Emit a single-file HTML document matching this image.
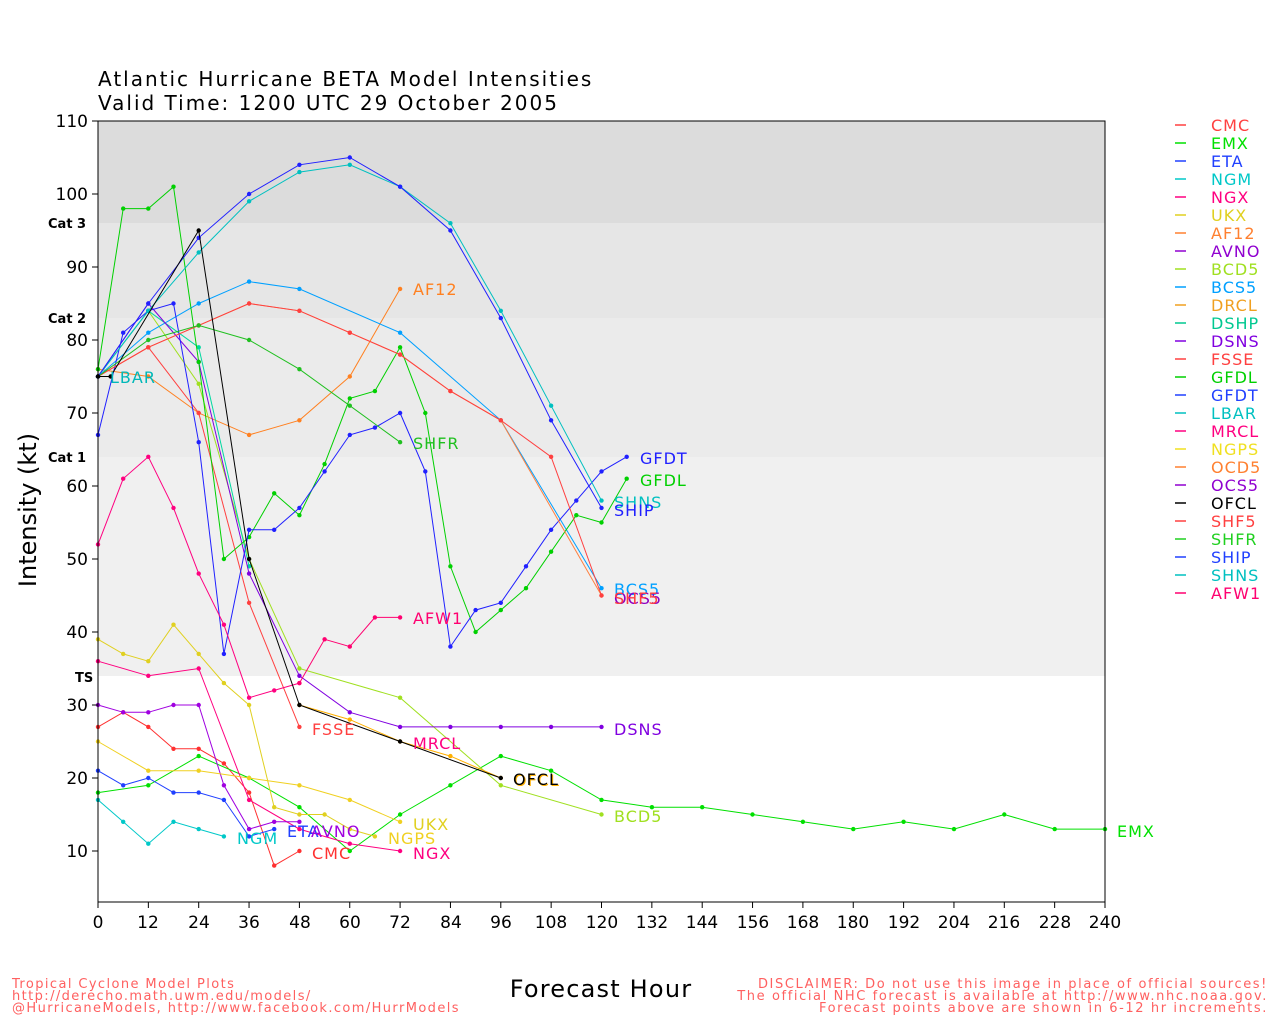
<!DOCTYPE html>
<html><head><meta charset="utf-8"><style>
body{margin:0;background:#fff}
svg{display:block;font-family:"DejaVu Sans","Liberation Sans",sans-serif}
</style></head><body>
<svg id="s" width="1280" height="1024" xmlns="http://www.w3.org/2000/svg">
<rect x="98" y="121" width="1007" height="102" fill="#dcdcdc"/>
<rect x="98" y="223" width="1007" height="95" fill="#e6e6e6"/>
<rect x="98" y="318" width="1007" height="139" fill="#ebebeb"/>
<rect x="98" y="457" width="1007" height="219" fill="#f0f0f0"/>
<g id="series"></g>
<rect x="98" y="121" width="1007" height="781" fill="none" stroke="#000" stroke-width="1"/>
<g font-size="20" fill="#000" letter-spacing="2">
<text x="98" y="86">Atlantic Hurricane BETA Model Intensities</text>
<text x="98" y="110">Valid Time: 1200 UTC 29 October 2005</text>
</g>
<g font-size="13" font-weight="bold" fill="#000">
<text x="48" y="228">Cat 3</text><text x="48" y="323">Cat 2</text><text x="48" y="462">Cat 1</text><text x="75" y="682">TS</text>
</g>
<g font-size="17" fill="#000" text-anchor="end" id="yt">
<text x="88" y="127">110</text><text x="88" y="200">100</text><text x="88" y="273">90</text><text x="88" y="346">80</text><text x="88" y="419">70</text><text x="88" y="492">60</text><text x="88" y="565">50</text><text x="88" y="638">40</text><text x="88" y="711">30</text><text x="88" y="784">20</text><text x="88" y="857">10</text>
</g>
<g font-size="17" fill="#000" text-anchor="middle">
<text x="98" y="928">0</text><text x="148" y="928">12</text><text x="199" y="928">24</text><text x="249" y="928">36</text><text x="300" y="928">48</text><text x="350" y="928">60</text><text x="400" y="928">72</text><text x="451" y="928">84</text><text x="501" y="928">96</text><text x="551" y="928">108</text><text x="602" y="928">120</text><text x="652" y="928">132</text><text x="702" y="928">144</text><text x="753" y="928">156</text><text x="803" y="928">168</text><text x="853" y="928">180</text><text x="904" y="928">192</text><text x="954" y="928">204</text><text x="1004" y="928">216</text><text x="1055" y="928">228</text><text x="1105" y="928">240</text>
</g>
<g id="ticks" stroke="#000"></g>
<text x="601" y="997" font-size="24" text-anchor="middle" letter-spacing="1.2">Forecast Hour</text>
<text transform="translate(36,510) rotate(-90)" font-size="24" text-anchor="middle">Intensity (kt)</text>
<g font-size="13" fill="#ff6060" letter-spacing="1.4">
<text x="12" y="988">Tropical Cyclone Model Plots</text>
<text x="12" y="1000">http://derecho.math.uwm.edu/models/</text>
<text x="12" y="1012">@HurricaneModels, http://www.facebook.com/HurrModels</text>
</g>
<g font-size="13" fill="#ff6060" text-anchor="end" letter-spacing="1.6">
<text x="1268" y="988">DISCLAIMER: Do not use this image in place of official sources!</text>
<text x="1268" y="1000">The official NHC forecast is available at http://www.nhc.noaa.gov.</text>
<text x="1268" y="1012">Forecast points above are shown in 6-12 hr increments.</text>
</g>
<g font-size="16" letter-spacing="1">
<text x="110" y="383" fill="#00b8b8">LBAR</text>
<text x="413" y="295" fill="#ff8020">AF12</text>
<text x="413" y="449" fill="#20c020">SHFR</text>
<text x="640" y="464" fill="#2020ff">GFDT</text>
<text x="640" y="486" fill="#00d000">GFDL</text>
<text x="614" y="508" fill="#00c0c0">SHNS</text>
<text x="614" y="516" fill="#2020ff">SHIP</text>
<text x="614" y="595" fill="#00a0ff">BCS5</text>
<text x="614" y="604" fill="#9000c0">OCS5</text>
<text x="614" y="604" fill="#ff4040">SHF5</text>
<text x="413" y="624" fill="#ff0070">AFW1</text>
<text x="312" y="735" fill="#ff4040">FSSE</text>
<text x="614" y="735" fill="#8000e0">DSNS</text>
<text x="413" y="749" fill="#ff0080">MRCL</text>
<text x="514" y="786" fill="#ffb000">OFCL</text>
<text x="513" y="785" fill="#000">OFCL</text>
<text x="614" y="822" fill="#a0e020">BCD5</text>
<text x="413" y="830" fill="#e0d020">UKX</text>
<text x="287" y="837" fill="#2040ff">ETA</text>
<text x="311" y="837" fill="#a000e0">AVNO</text>
<text x="1117" y="837" fill="#00e000">EMX</text>
<text x="237" y="844" fill="#00c8c8">NGM</text>
<text x="388" y="844" fill="#f0d020">NGPS</text>
<text x="312" y="859" fill="#ff3030">CMC</text>
<text x="413" y="859" fill="#ff0080">NGX</text>
</g>
<g id="leg" font-size="16" letter-spacing="1"></g>
</svg>
<script>
var X=function(h){return 98+h*1007/240},Y=function(k){return 851-(k-10)*7.3};
var S=[
["CMC","#ff3030",[[0,27],[6,29],[12,27],[18,24],[24,24],[30,22],[36,18],[42,8],[48,10]]],
["EMX","#00e000",[[0,18],[12,19],[24,23],[36,20],[48,16],[60,10],[72,15],[84,19],[96,23],[108,21],[120,17],[132,16],[144,16],[156,15],[168,14],[180,13],[192,14],[204,13],[216,15],[228,13],[240,13]]],
["ETA","#2040ff",[[0,21],[6,19],[12,20],[18,18],[24,18],[30,17],[36,12],[42,13]]],
["NGM","#00c8c8",[[0,17],[6,14],[12,11],[18,14],[24,13],[30,12]]],
["NGX","#ff0080",[[0,36],[12,34],[24,35],[36,17],[48,13],[60,11],[72,10]]],
["UKX","#e0d020",[[0,39],[6,37],[12,36],[18,41],[24,37],[30,33],[36,30],[42,16],[48,15],[54,15],[60,13],[66,12]]],
["AF12","#ff8020",[[0,76],[12,75],[24,70],[36,67],[48,69],[60,75],[72,87]]],
["AVNO","#a000e0",[[0,30],[6,29],[12,29],[18,30],[24,30],[30,19],[36,13],[42,14],[48,14]]],
["BCD5","#a0e020",[[0,75],[12,84],[24,74],[36,50],[48,35],[72,31],[96,19],[120,15]]],
["BCS5","#00a0ff",[[0,75],[12,81],[24,85],[36,88],[48,87],[72,81],[96,69],[120,46]]],
["DRCL","#ffb000",[[48,30],[60,28],[72,25],[84,23],[96,20]]],
["DSHP","#00d8a0",[[0,75],[12,84],[24,79],[36,49]]],
["DSNS","#8000e0",[[0,75],[12,85],[24,77],[36,48],[48,34],[60,29],[72,27],[84,27],[96,27],[108,27],[120,27]]],
["FSSE","#ff4040",[[0,75],[12,79],[24,70],[36,44],[48,27]]],
["GFDL","#00d000",[[0,76],[6,98],[12,98],[18,101],[24,77],[30,50],[36,53],[42,59],[48,56],[54,63],[60,72],[66,73],[72,79],[78,70],[84,49],[90,40],[96,43],[102,46],[108,51],[114,56],[120,55],[126,61]]],
["GFDT","#2020ff",[[0,67],[6,81],[12,84],[18,85],[24,66],[30,37],[36,54],[42,54],[48,57],[54,62],[60,67],[66,68],[72,70],[78,62],[84,38],[90,43],[96,44],[102,49],[108,54],[114,58],[120,62],[126,64]]],
["MRCL","#ff0080",[[0,52],[6,61],[12,64],[18,57],[24,48],[30,41],[36,31],[42,32],[48,33]]],
["AFW1","#ff0070",[[48,33],[54,39],[60,38],[66,42],[72,42]]],
["NGPS","#f0d020",[[0,25],[12,21],[24,21],[36,20],[48,19],[60,17],[72,14]]],
["OCD5","#ff8040",[[0,75],[12,79],[24,82],[36,85],[48,84],[60,81],[72,78],[84,73],[96,69],[120,45]]],
["SHF5","#ff4040",[[0,75],[12,79],[24,82],[36,85],[48,84],[60,81],[72,78],[84,73],[96,69],[108,64],[120,45]]],
["SHFR","#20c020",[[0,75],[12,80],[24,82],[36,80],[48,76],[60,71],[72,66]]],
["SHNS","#00c0c0",[[0,75],[12,84],[24,92],[36,99],[48,103],[60,104],[72,101],[84,96],[96,84],[108,71],[120,58]]],
["SHIP","#2020ff",[[0,75],[12,85],[24,94],[36,100],[48,104],[60,105],[72,101],[84,95],[96,83],[108,69],[120,57]]],
["OFCL","#000000",[[0,75],[3,75],[24,95],[36,50],[48,30],[72,25],[96,20]]]
];
var g=document.getElementById("series"),h="";
S.forEach(function(s){var p=s[2].map(function(q){return X(q[0]).toFixed(1)+","+Y(q[1]).toFixed(1)}).join(" ");
h+='<polyline points="'+p+'" fill="none" stroke="'+s[1]+'" stroke-width="1"/>';
s[2].forEach(function(q){h+='<circle cx="'+X(q[0]).toFixed(1)+'" cy="'+Y(q[1]).toFixed(1)+'" r="2.2" fill="'+s[1]+'"/>'});});
g.innerHTML=h;
var t="";for(var i=0;i<=240;i+=12){t+='<line x1="'+X(i)+'" y1="902" x2="'+X(i)+'" y2="908"/>';}
for(var k=10;k<=110;k+=10){t+='<line x1="92" y1="'+Y(k)+'" x2="98" y2="'+Y(k)+'"/>';}
document.getElementById("ticks").innerHTML=t;
var L=[["CMC","#ff4040"],["EMX","#00e000"],["ETA","#2040ff"],["NGM","#00c8c8"],["NGX","#ff0080"],["UKX","#e0d020"],["AF12","#ff8030"],["AVNO","#9000d0"],["BCD5","#a0e020"],["BCS5","#00a0ff"],["DRCL","#f0a020"],["DSHP","#00c890"],["DSNS","#8000e0"],["FSSE","#ff4040"],["GFDL","#00d000"],["GFDT","#2040ff"],["LBAR","#00c0c0"],["MRCL","#ff0080"],["NGPS","#f0e020"],["OCD5","#ff8030"],["OCS5","#9000d0"],["OFCL","#000000"],["SHF5","#ff4040"],["SHFR","#20d020"],["SHIP","#2040ff"],["SHNS","#00c0c0"],["AFW1","#ff0070"]];
var l="";L.forEach(function(a,i){var y=125+i*18;l+='<line x1="1175" x2="1186" y1="'+y+'" y2="'+y+'" stroke="'+a[1]+'" stroke-width="1.5"/><text x="1211" y="'+(y+6)+'" fill="'+a[1]+'">'+a[0]+'</text>';});
document.getElementById("leg").innerHTML=l;
</script>
</body></html>
